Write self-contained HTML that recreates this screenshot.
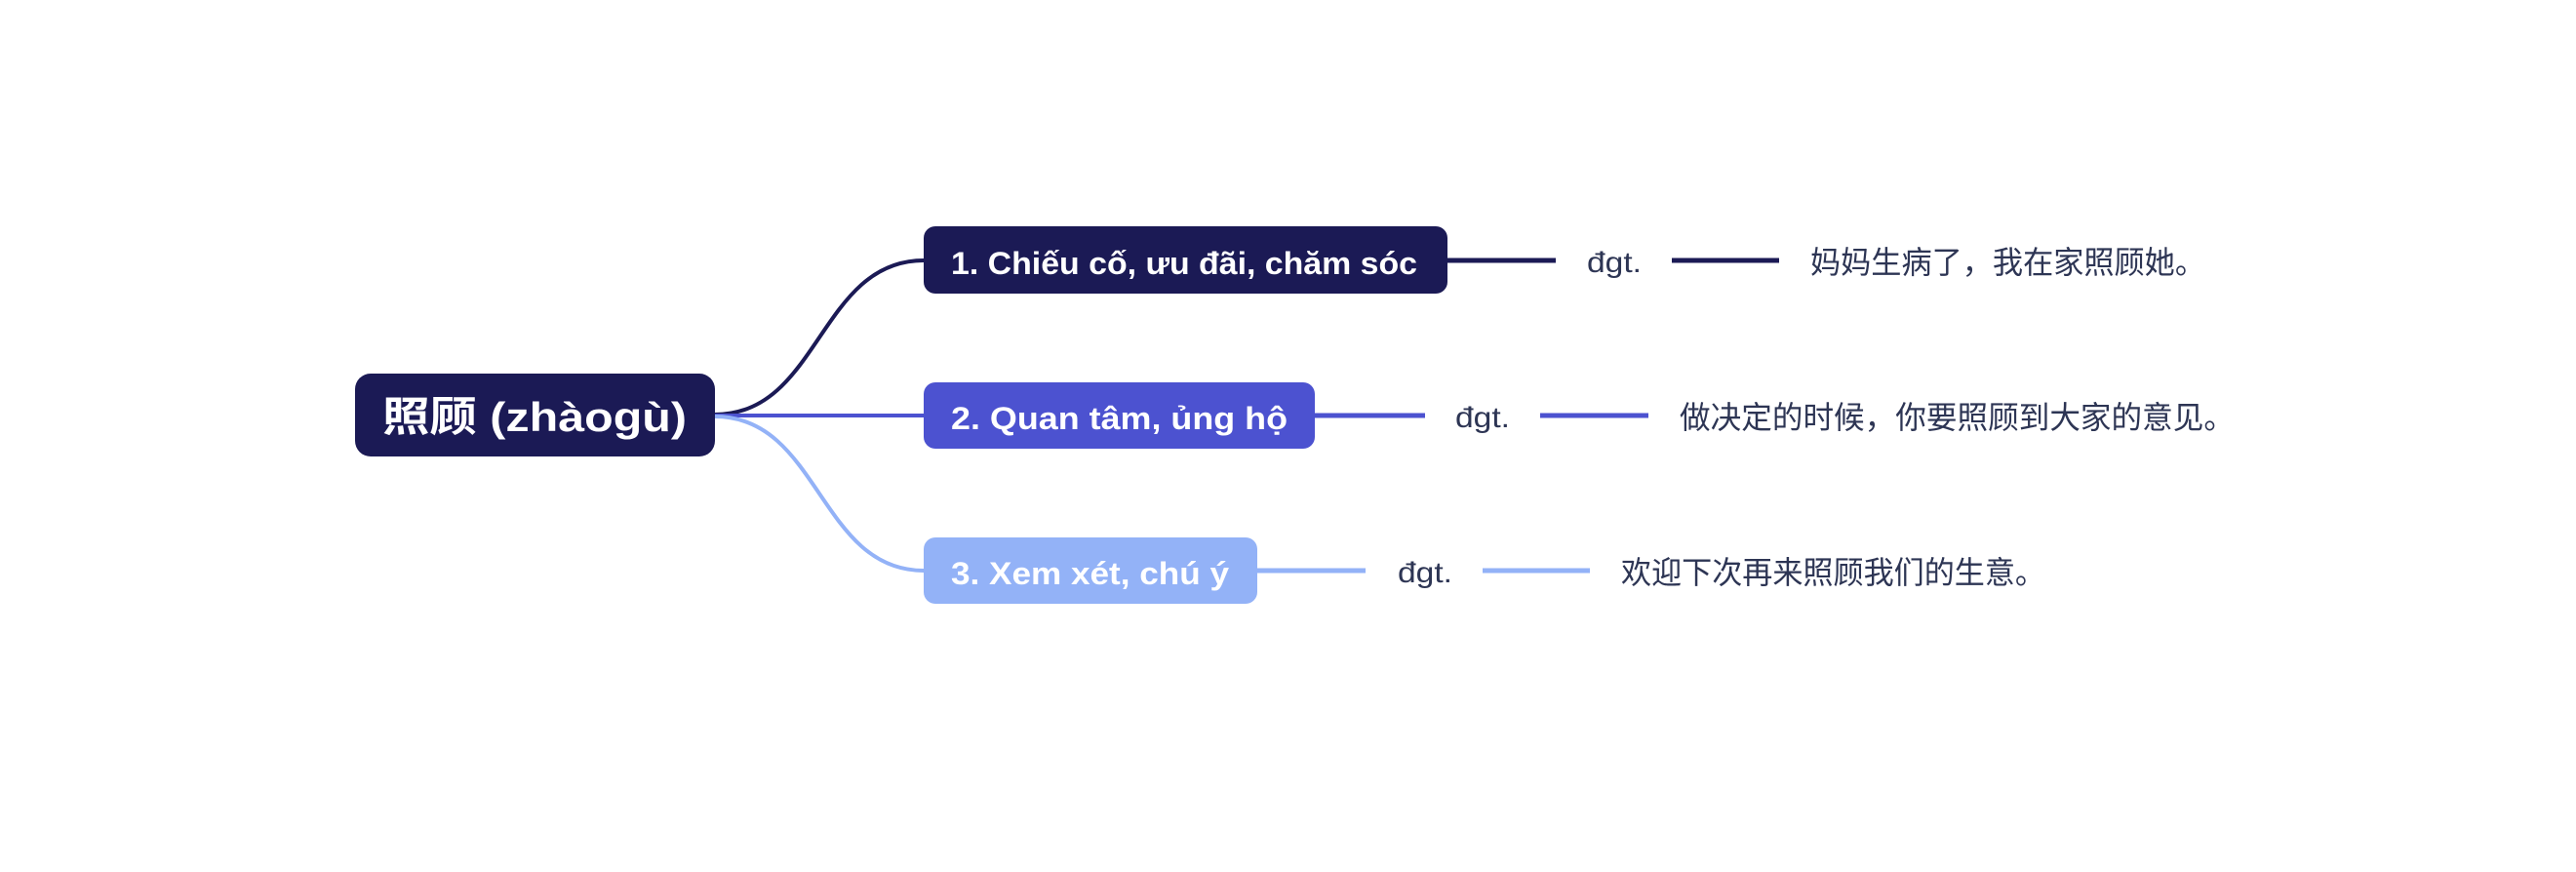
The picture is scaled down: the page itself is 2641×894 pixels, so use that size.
<!DOCTYPE html>
<html><head><meta charset="utf-8"><style>html,body{margin:0;padding:0;background:#fff;}svg{display:block}</style></head>
<body>
<svg width="2641" height="894" viewBox="0 0 2641 894" xmlns="http://www.w3.org/2000/svg">
<g fill="none" stroke-width="4">
<path d="M733 425 C 840 425, 840 267, 947 267" stroke="#1b1a55"/>
<path d="M733 426 L947 426" stroke="#4c52d0"/>
<path d="M733 427 C 840 427, 840 585, 947 585" stroke="#93b2f7"/>
<path d="M1484 267 L1595 267 M1714 267 L1824 267" stroke="#1b1a55" stroke-width="5"/>
<path d="M1348 426 L1461 426 M1579 426 L1690 426" stroke="#4c52d0" stroke-width="5"/>
<path d="M1289 585 L1400 585 M1520 585 L1630 585" stroke="#93b2f7" stroke-width="5"/>
</g>
<rect x="364" y="383" width="369" height="85" rx="16" fill="#1b1a55"/>
<rect x="947" y="232" width="537" height="69" rx="12" fill="#1b1a55"/>
<rect x="947" y="392" width="401" height="68" rx="12" fill="#4c52d0"/>
<rect x="947" y="551" width="342" height="68" rx="12" fill="#93b2f7"/>
<g font-family="Liberation Sans, Noto Sans CJK SC, sans-serif" font-weight="bold" fill="#fff">
<text x="392" y="442" font-size="42" textLength="312" lengthAdjust="spacingAndGlyphs">照顾 (zhàogù)</text>
<text x="975" y="281" font-size="32" textLength="478" lengthAdjust="spacingAndGlyphs">1. Chiếu cố, ưu đãi, chăm sóc</text>
<text x="975" y="440" font-size="32" textLength="345" lengthAdjust="spacingAndGlyphs">2. Quan tâm, ủng hộ</text>
<text x="975" y="599" font-size="32" textLength="285" lengthAdjust="spacingAndGlyphs">3. Xem xét, chú ý</text>
</g>
<g font-family="Liberation Sans, Noto Sans CJK SC, sans-serif" fill="#2d3554" font-size="30">
<text x="1627" y="279" textLength="56" lengthAdjust="spacingAndGlyphs">đgt.</text>
<text x="1492" y="438" textLength="56" lengthAdjust="spacingAndGlyphs">đgt.</text>
<text x="1433" y="597" textLength="56" lengthAdjust="spacingAndGlyphs">đgt.</text>
<text x="1856" y="280" font-size="32" textLength="405" lengthAdjust="spacingAndGlyphs">妈妈生病了，我在家照顾她。</text>
<text x="1722" y="439" font-size="32" textLength="569" lengthAdjust="spacingAndGlyphs">做决定的时候，你要照顾到大家的意见。</text>
<text x="1662" y="598" font-size="32" textLength="435" lengthAdjust="spacingAndGlyphs">欢迎下次再来照顾我们的生意。</text>
</g>
</svg>
</body></html>
